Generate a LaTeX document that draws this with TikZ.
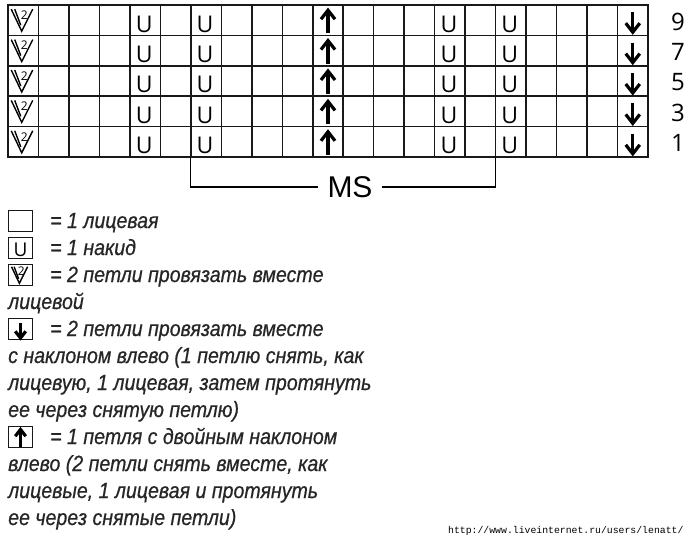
\documentclass[tikz,border=0pt]{standalone}
\usepackage{fontspec}
\setmainfont{Liberation Sans}
\newfontfamily\legfont[FakeStretch=0.89,FakeBold=0.6]{Liberation Sans}
\newfontfamily\symfont{Open Sans}
\newfontfamily\urlfont{Liberation Mono}
\begin{document}
\begin{tikzpicture}[x=1pt,y=-1pt,
  cell/.style={draw=black!90, line width=1.5pt, minimum width=30.476pt, minimum height=30.4pt, inner sep=0pt, outer sep=0pt},
  lbox/.style={draw=black!90, line width=1.1pt, minimum width=24pt, minimum height=21pt, inner sep=0pt, outer sep=0pt},
  ulet/.style={font=\symfont\fontsize{23}{23}\selectfont, inner sep=0pt, anchor=base},
  rownum/.style={font=\symfont\fontsize{24}{24}\selectfont, inner sep=0pt, anchor=base},
  leg/.style={font=\legfont\fontsize{22}{22}\selectfont\itshape, text=black!85, inner sep=0pt, anchor=base west},
  bracket/.style={line width=1.2pt},
  arr/.style={line width=3.2pt},
  thin/.style={line width=1.4pt},
  upar/.pic={\draw[arr] (0,13) -- (0,-9); \draw[arr, line join=miter] (-7,-1) -- (0,-10) -- (7,-1);},
  dnar/.pic={\draw[arr] (0,-8) -- (0,12); \draw[arr, line join=miter] (-7,3) -- (0,12) -- (7,3);},
  vtwo/.pic={\draw[thin, line join=miter] (-12,-11) -- (-1.5,11) -- (9.5,-11);
             \draw[thin] (-8.5,-11) -- (-2.5,5);
             \node[font=\symfont\fontsize{12}{12}\selectfont, inner sep=0pt] (-two) at (1,-5) {2};}
]
\useasboundingbox (0,0) rectangle (690,540);
\fill[white] (0,0) rectangle (690,540);
% grid
\foreach \i in {0,...,20}
  \foreach \j in {0,...,4}
    \node[cell] (c-\i-\j) at ({8+(\i+0.5)*30.476},{5+(\j+0.5)*30.4}) {};
\foreach \j in {0,...,4}{
  \pic (v-\j) at (c-0-\j) {vtwo};
  \node[ulet, xshift=-1pt, yshift=-12pt] (ua-\j) at (c-4-\j) {U};
  \node[ulet, xshift=-1pt, yshift=-12pt] (ub-\j) at (c-6-\j) {U};
  \pic at (c-10-\j) {upar};
  \node[ulet, xshift=-1pt, yshift=-12pt] (uc-\j) at (c-14-\j) {U};
  \node[ulet, xshift=-1pt, yshift=-12pt] (ud-\j) at (c-16-\j) {U};
  \pic at (c-20-\j) {dnar};
}
\foreach \j/\n in {0/9,1/7,2/5,3/3,4/1}
  \node[rownum] (r-\j) at (678,{5+(\j+0.5)*30.4+10}) {\n};
% MS bracket
\node[font=\fontsize{30}{30}\selectfont, inner sep=0pt, inner xsep=9pt] (ms) at (350,187) {MS};
\draw[bracket] (c-6-4.south west) |- (ms.west);
\draw[bracket] (c-15-4.south east) |- (ms.east);
% legend
\node[lbox] (lb1) at (20.5,221) {};
\node[leg] (t0) at (50,228) {= 1 лицевая};
\node[lbox] (lb2) at (20.5,248) {};
\node[ulet, font=\symfont\fontsize{19}{19}\selectfont] (lbu) at (20.5,256) {U};
\node[leg] (t1) at (50,255) {= 1 накид};
\node[lbox] (lb3) at (20.5,275) {};
\pic[scale=0.75] at (lb3) {vtwo};
\node[leg] (t2) at (50,282) {= 2 петли провязать вместе};
\node[leg] (t3) at (8,309) {лицевой};
\node[lbox] (lb4) at (20.5,329) {};
\pic[scale=0.75] at (lb4) {dnar};
\node[leg] (t4) at (50,336) {= 2 петли провязать вместе};
\node[leg] (t5) at (8,363) {с наклоном влево (1 петлю снять, как};
\node[leg] (t6) at (8,390) {лицевую, 1 лицевая, затем протянуть};
\node[leg] (t7) at (8,417) {ее через снятую петлю)};
\node[lbox] (lb5) at (20.5,437) {};
\pic[scale=0.75] at (lb5) {upar};
\node[leg] (t8) at (50,444) {= 1 петля с двойным наклоном};
\node[leg] (t9) at (8,471) {влево (2 петли снять вместе, как};
\node[leg] (t10) at (8,498) {лицевые, 1 лицевая и протянуть};
\node[leg] (t11) at (8,525) {ее через снятые петли)};
\node[font=\urlfont\fontsize{9.8}{10}\selectfont, inner sep=0pt, anchor=base west] (url) at (448,533) {http://www.liveinternet.ru/users/lenatt/};
\end{tikzpicture}
\end{document}
